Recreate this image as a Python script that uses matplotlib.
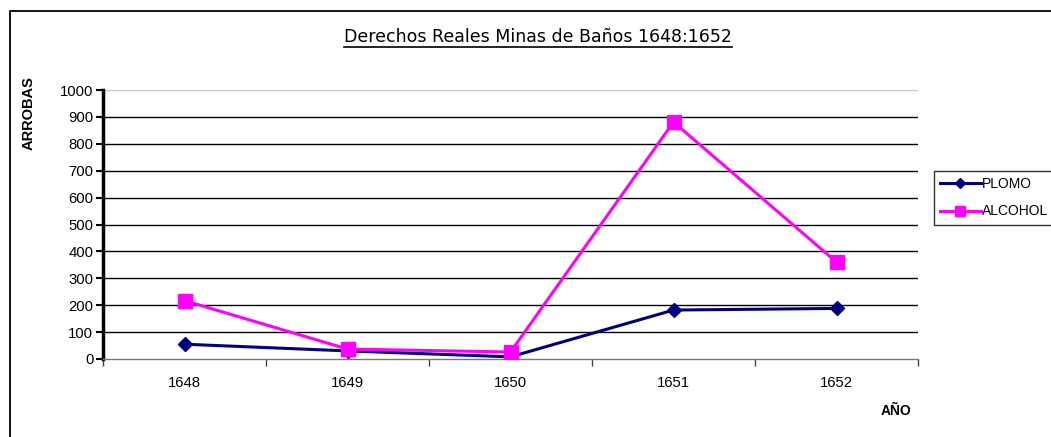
import matplotlib
matplotlib.use("Agg")
import matplotlib.pyplot as plt
from matplotlib.patches import Rectangle
from matplotlib.lines import Line2D

# ──────────────────────────────────────────────────────────────────────
# DATA
# ──────────────────────────────────────────────────────────────────────
years = ["1648", "1649", "1650", "1651", "1652"]
plomo = [55, 30, 8, 182, 188]
alcohol = [217, 37, 26, 881, 360]
y_ticks = list(range(0, 1001, 100))

TITLE = "Derechos Reales Minas de Baños 1648:1652"
NAVY = "#000080"
MAGENTA = "#FF00FF"

plt.rcParams["font.family"] = ["Liberation Sans", "DejaVu Sans"]

W, H = 1051, 437
fig = plt.figure(figsize=(W / 100, H / 100), dpi=100, facecolor="white")

# outer chart frame (runs off the right and bottom edges)
fig.patches.append(Rectangle((10 / W, -0.1), 1.2, 1 - 11 / H + 0.1,
                             transform=fig.transFigure, fill=False,
                             edgecolor="black", linewidth=1.3))

ax = fig.add_axes([103 / W, 1 - 359 / H, (918 - 103) / W, (359 - 90) / H])

x = list(range(len(years)))
ax.plot(x, plomo, color=NAVY, linewidth=2.2, marker="D", markersize=6.8,
        label="PLOMO", zorder=3)
ax.plot(x, alcohol, color=MAGENTA, linewidth=2.2, marker="s", markersize=9.5,
        label="ALCOHOL", zorder=4)

ax.set_xlim(-0.5, len(years) - 0.5)
ax.set_ylim(0, 1000)
ax.set_yticks(y_ticks)
ax.set_yticklabels([str(v) for v in y_ticks], fontsize=10.7)

# category labels centered, ticks between categories
ax.set_xticks([i - 0.5 for i in range(len(years) + 1)])
ax.set_xticklabels([])
ax.set_xticks(x, minor=True)
ax.set_xticklabels(years, minor=True, fontsize=10.7)
ax.tick_params(axis="x", which="major", length=5, width=1, color="#444444")
ax.tick_params(axis="x", which="minor", length=0, pad=12)
ax.tick_params(axis="y", length=5, width=1.5, pad=2)

for v in y_ticks[1:]:
    ax.axhline(v, color="#c8c8c8" if v == 1000 else "black", linewidth=1, zorder=1)

for s in ("top", "right"):
    ax.spines[s].set_visible(False)
ax.spines["left"].set_linewidth(2.5)
ax.spines["bottom"].set_color("#777777")
ax.spines["bottom"].set_linewidth(1)

# title with underline
t = fig.text(538 / W, 1 - 37 / H, TITLE, ha="center", va="center",
             fontsize=12.5, family=["DejaVu Sans"])
fig.canvas.draw()
bb = t.get_window_extent()
y_ul = bb.y0 - 1
fig.add_artist(Line2D([bb.x0 / W, bb.x1 / W], [y_ul / H, y_ul / H],
                      transform=fig.transFigure, color="black", linewidth=1.2))

fig.text(29 / W, 1 - 113 / H, "ARROBAS", rotation=90, ha="center", va="center",
         fontsize=10.5, fontweight="bold")
fig.text(896 / W, 1 - 411 / H, "AÑO", ha="center", va="center",
         fontsize=10, fontweight="bold")

leg = ax.legend(loc="upper left", bbox_to_anchor=(934 / W, 1 - 171 / H),
                bbox_transform=fig.transFigure, frameon=True, fancybox=False,
                fontsize=10, handlelength=2.9, handletextpad=0.1,
                borderpad=0.45, labelspacing=0.95, borderaxespad=0,
                markerscale=0.75)
leg.get_frame().set_edgecolor("black")
leg.get_frame().set_linewidth(1)

fig.savefig("out.png", dpi=100, facecolor="white")
